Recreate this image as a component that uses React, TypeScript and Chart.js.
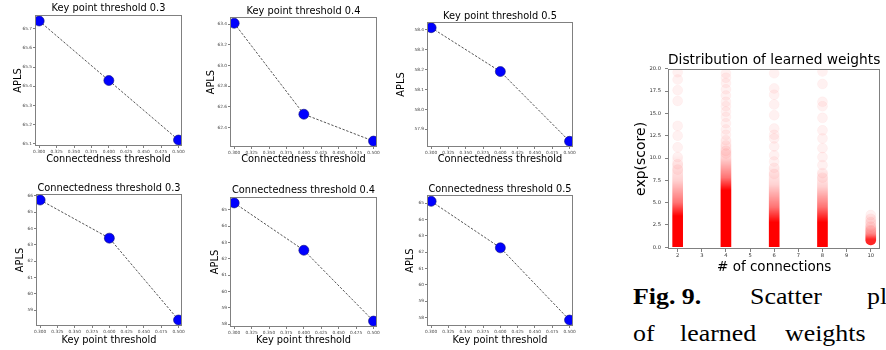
import React, { useEffect, useRef } from 'react';
import { Chart, registerables } from 'chart.js';

Chart.register(...registerables);

const SANS = "'DejaVu Sans', 'Noto Sans', sans-serif";

// ---------- APLS sweeps ----------
const thresholds = [0.3, 0.4, 0.5];
// top row: x = connectedness threshold
const aplsKeyPoint03 = [65.74, 65.43, 65.12];
const aplsKeyPoint04 = [63.41, 62.53, 62.27];
const aplsKeyPoint05 = [58.41, 58.19, 57.84];
// bottom row: x = key point threshold
const aplsConnect03 = [65.74, 63.41, 58.41];
const aplsConnect04 = [65.43, 62.53, 58.19];
const aplsConnect05 = [65.12, 62.27, 57.84];

const thresholdTickLabels = ['0.300', '0.325', '0.350', '0.375', '0.400', '0.425', '0.450', '0.475', '0.500'];
const yTicksKeyPoint03 = ['65.1', '65.2', '65.3', '65.4', '65.5', '65.6', '65.7'];
const yTicksKeyPoint04 = ['62.4', '62.6', '62.8', '63.0', '63.2', '63.4'];
const yTicksKeyPoint05 = ['57.9', '58.0', '58.1', '58.2', '58.3', '58.4'];
const yTicksConnect03 = ['59', '60', '61', '62', '63', '64', '65', '66'];
const yTicksConnect04 = ['58', '59', '60', '61', '62', '63', '64', '65'];
const yTicksConnect05 = ['58', '59', '60', '61', '62', '63', '64', '65'];

// ---------- learned weights ----------
const connectionCounts = [2, 4, 6, 8, 10];
const weightLow = [0, 0, 0, 0, 0.25];
const weightSolidTop = [3.5, 6.4, 2.8, 2.8, 0.9];
const weightMidTop = [5.0, 7.8, 4.5, 4.5, 1.5];
const weightPaleTop = [7.5, 10.0, 7.0, 6.8, 2.5];
const weightFadeTop = [10.5, 12.5, 9.5, 9.0, 3.8];
const sparseWeights2 = [19.6, 18.8, 17.6, 16.4, 13.6, 12.5, 11.2, 10.1, 9.3, 8.7];
const sparseWeights4 = [19.5, 19.0, 18.4, 17.7, 17.0, 16.3, 15.8, 15.2, 14.6, 13.9, 13.2, 12.6, 12.0, 11.4, 10.8, 10.5];
const sparseWeights6 = [19.5, 17.8, 17.1, 16.0, 14.8, 13.3, 12.6, 12.2, 11.3, 10.3, 9.6, 8.9, 8.2];
const sparseWeights8 = [19.7, 18.3, 16.3, 15.8, 14.5, 13.1, 12.2, 11.1, 10.1, 9.2, 8.3, 7.8];
const sparseWeights10 = [3.6, 3.2, 2.8, 2.3, 1.9];
const connectionTickLabels = ['2', '3', '4', '5', '6', '7', '8', '9', '10'];
const scoreTickLabels = ['0.0', '2.5', '5.0', '7.5', '10.0', '12.5', '15.0', '17.5', '20.0'];

const framePlugin = {
  id: 'frame',
  afterDraw(chart: any) {
    const { ctx, chartArea: a } = chart;
    ctx.save();
    ctx.strokeStyle = '#808080';
    ctx.lineWidth = 1;
    ctx.strokeRect(Math.round(a.left) + 0.5, Math.round(a.top) + 0.5, Math.round(a.right - a.left) - 1, Math.round(a.bottom - a.top) - 1);
    ctx.restore();
  },
};

type PanelSpec = {
  title: string;
  xLabel: string;
  values: number[];
  yTicks: string[];
  box: [number, number, number, number];
  yAxisW: number;
  padRight: number;
  titlePad: [number, number];
  yTitlePad: number;
  xAxisH: number;
};

const panels: PanelSpec[] = [
  { title: 'Key point threshold 0.3', xLabel: 'Connectedness threshold', values: aplsKeyPoint03, yTicks: yTicksKeyPoint03, box: [0, 0, 190, 167], yAxisW: 35, padRight: 8, titlePad: [3, 0.24], yTitlePad: 13, xAxisH: 21 },
  { title: 'Key point threshold 0.4', xLabel: 'Connectedness threshold', values: aplsKeyPoint04, yTicks: yTicksKeyPoint04, box: [200, 0, 185, 167], yAxisW: 30, padRight: 8, titlePad: [5.6, 0], yTitlePad: 5.8, xAxisH: 20 },
  { title: 'Key point threshold 0.5', xLabel: 'Connectedness threshold', values: aplsKeyPoint05, yTicks: yTicksKeyPoint05, box: [395, 0, 186, 167], yAxisW: 32, padRight: 8, titlePad: [10.1, 0.14], yTitlePad: 0.8, xAxisH: 20 },
  { title: 'Connectedness threshold 0.3', xLabel: 'Key point threshold', values: aplsConnect03, yTicks: yTicksConnect03, box: [0, 178, 190, 170], yAxisW: 36, padRight: 8, titlePad: [4.1, 0.14], yTitlePad: 14.8, xAxisH: 22 },
  { title: 'Connectedness threshold 0.4', xLabel: 'Key point threshold', values: aplsConnect04, yTicks: yTicksConnect04, box: [200, 178, 185, 170], yAxisW: 30, padRight: 8, titlePad: [6.1, 1.14], yTitlePad: 9.1, xAxisH: 21 },
  { title: 'Connectedness threshold 0.5', xLabel: 'Key point threshold', values: aplsConnect05, yTicks: yTicksConnect05, box: [395, 178, 186, 170], yAxisW: 32, padRight: 8, titlePad: [5.6, 0], yTitlePad: 9.8, xAxisH: 22 },
];

function LinePanel({ spec }: { spec: PanelSpec }) {
  const ref = useRef<HTMLCanvasElement>(null);
  useEffect(() => {
    const lo = Math.min(...spec.values);
    const hi = Math.max(...spec.values);
    const m = (hi - lo) * 0.05;
    const chart = new Chart(ref.current as HTMLCanvasElement, {
      type: 'scatter',
      data: {
        datasets: [
          {
            data: thresholds.map((x, i) => ({ x, y: spec.values[i] })),
            showLine: true,
            borderColor: '#2a2a2a',
            borderWidth: 0.8,
            borderDash: [2.4, 1.6],
            pointRadius: 5,
            pointBackgroundColor: '#0000ff',
            pointBorderColor: '#10107a',
            pointBorderWidth: 0.6,
          } as any,
        ],
      },
      options: {
        animation: false,
        responsive: false,
        events: [],
        layout: { padding: { left: 0, right: spec.padRight, top: 0, bottom: 0 } },
        plugins: {
          legend: { display: false },
          tooltip: { enabled: false },
          title: {
            display: true,
            text: spec.title,
            fullSize: false,
            color: '#000',
            font: { family: SANS, size: 9.8, weight: 'normal', lineHeight: 1.2 },
            padding: { top: spec.titlePad[0], bottom: spec.titlePad[1] },
          },
        },
        scales: {
          x: {
            type: 'linear',
            min: 0.294,
            max: 0.505,
            bounds: 'data',
            afterBuildTicks: (s: any) => {
              s.ticks = thresholdTickLabels.map((l) => ({ value: Number(l) }));
            },
            afterFit: (s: any) => {
              s.height = spec.xAxisH;
            },
            ticks: {
              autoSkip: false,
              maxRotation: 0,
              padding: 1,
              color: '#444',
              font: { family: SANS, size: 4.3 },
              callback: (_v: any, i: number) => thresholdTickLabels[i],
            },
            grid: { drawOnChartArea: false, drawTicks: true, tickLength: 2, color: '#808080' },
            border: { display: false },
            title: {
              display: true,
              text: spec.xLabel,
              color: '#000',
              font: { family: SANS, size: 9.8, lineHeight: 1.2 },
              padding: { top: 0, bottom: 2 },
            },
          },
          y: {
            type: 'linear',
            min: lo - m,
            max: hi + m,
            bounds: 'data',
            afterBuildTicks: (s: any) => {
              s.ticks = spec.yTicks.map((l) => ({ value: Number(l) }));
            },
            afterFit: (s: any) => {
              s.width = spec.yAxisW;
            },
            ticks: {
              autoSkip: false,
              padding: 1,
              color: '#444',
              font: { family: SANS, size: 4.3 },
              callback: (_v: any, i: number) => spec.yTicks[i],
            },
            grid: { drawOnChartArea: false, drawTicks: true, tickLength: 2, color: '#808080' },
            border: { display: false },
            title: {
              display: true,
              text: 'APLS',
              color: '#000',
              font: { family: SANS, size: 9.8, lineHeight: 1.2 },
              padding: { top: spec.yTitlePad, bottom: 0 },
            },
          },
        },
      } as any,
      plugins: [framePlugin],
    });
    return () => chart.destroy();
  }, [spec]);
  const [left, top, w, h] = spec.box;
  return (
    <canvas
      ref={ref}
      width={w}
      height={h}
      style={{ position: 'absolute', left, top, width: w, height: h }}
    />
  );
}

function WeightsChart() {
  const ref = useRef<HTMLCanvasElement>(null);
  useEffect(() => {
    const gradientAlphas = [1, 0.55, 0.18, 0];
    const fill = (c: any) => {
      const chart = c.chart;
      const i = c.dataIndex;
      if (i === undefined || !chart.chartArea) return 'rgba(255,0,0,0.9)';
      const ys = chart.scales.y;
      const p0 = ys.getPixelForValue(weightLow[i]);
      const p1 = ys.getPixelForValue(weightFadeTop[i]);
      const k = i === 4 ? 0.85 : 1;
      const g = chart.ctx.createLinearGradient(0, p0, 0, p1);
      g.addColorStop(0, `rgba(255,0,0,${k})`);
      [weightSolidTop[i], weightMidTop[i], weightPaleTop[i], weightFadeTop[i]].forEach((v, j) => {
        const t = (ys.getPixelForValue(v) - p0) / (p1 - p0);
        g.addColorStop(Math.min(1, Math.max(0, t)), `rgba(255,0,0,${gradientAlphas[j] * k})`);
      });
      return g;
    };
    const radius = (c: any) =>
      c.dataIndex === 4 || c.dataIndex === undefined
        ? 5
        : { topLeft: 5, topRight: 5, bottomLeft: 0, bottomRight: 0 };
    const sparse = [sparseWeights2, sparseWeights4, sparseWeights6, sparseWeights8, sparseWeights10].flatMap((arr, i) =>
      arr.map((y) => ({ x: connectionCounts[i], y }))
    );
    const chart = new Chart(ref.current as HTMLCanvasElement, {
      type: 'scatter',
      data: {
        datasets: [
          {
            type: 'bar',
            order: 2,
            data: connectionCounts.map((x, i) => ({ x, y: [weightLow[i], weightFadeTop[i]] })),
            backgroundColor: fill,
            barThickness: 10,
            borderRadius: radius,
            borderSkipped: false,
            borderWidth: 0,
            grouped: false,
          } as any,
          {
            type: 'scatter',
            order: 1,
            data: sparse,
            pointRadius: 5,
            backgroundColor: 'rgba(255,0,0,0.055)',
            borderColor: 'rgba(255,0,0,0.06)',
            borderWidth: 0.6,
          } as any,
        ],
      },
      options: {
        animation: false,
        responsive: false,
        events: [],
        layout: { padding: { left: 0, right: 3, top: 0, bottom: 0 } },
        plugins: {
          legend: { display: false },
          tooltip: { enabled: false },
          title: {
            display: true,
            text: 'Distribution of learned weights',
            fullSize: false,
            color: '#000',
            font: { family: SANS, size: 14, weight: 'normal', lineHeight: 1.2 },
            padding: { top: 7, bottom: 0 },
          },
        },
        scales: {
          x: {
            type: 'linear',
            min: 1.6,
            max: 10.4,
            offset: false,
            bounds: 'data',
            afterBuildTicks: (s: any) => {
              s.ticks = connectionTickLabels.map((l) => ({ value: Number(l) }));
            },
            afterFit: (s: any) => {
              s.height = 29;
            },
            ticks: {
              autoSkip: false,
              maxRotation: 0,
              padding: 1,
              color: '#333',
              font: { family: SANS, size: 5.2 },
              callback: (_v: any, i: number) => connectionTickLabels[i],
            },
            grid: { drawOnChartArea: false, drawTicks: true, tickLength: 3, color: '#808080', offset: false },
            border: { display: false },
            title: {
              display: true,
              text: '# of connections',
              color: '#000',
              font: { family: SANS, size: 13.5, lineHeight: 1.2 },
              padding: { top: 0, bottom: 2 },
            },
          },
          y: {
            type: 'linear',
            min: -0.2,
            max: 20,
            bounds: 'data',
            afterBuildTicks: (s: any) => {
              s.ticks = scoreTickLabels.map((l) => ({ value: Number(l) }));
            },
            afterFit: (s: any) => {
              s.width = 43;
            },
            ticks: {
              autoSkip: false,
              padding: 4,
              color: '#333',
              font: { family: SANS, size: 5.2 },
              callback: (_v: any, i: number) => scoreTickLabels[i],
            },
            grid: { drawOnChartArea: false, drawTicks: true, tickLength: 3, color: '#808080' },
            border: { display: false },
            title: {
              display: true,
              text: 'exp(score)',
              color: '#000',
              font: { family: SANS, size: 14, lineHeight: 1.2 },
              padding: { top: 7.6, bottom: 0 },
            },
          },
        },
      } as any,
      plugins: [framePlugin],
    });
    return () => chart.destroy();
  }, []);
  return (
    <canvas
      ref={ref}
      width={261}
      height={233}
      style={{ position: 'absolute', left: 625, top: 45, width: 261, height: 233 }}
    />
  );
}

function Caption() {
  const serif = "'Liberation Serif', 'Times New Roman', serif";
  const word = (text: string, left: number, top: number, bold = false) => (
    <span
      key={text + left}
      style={{
        position: 'absolute',
        left,
        top,
        fontFamily: serif,
        fontSize: 22.5,
        lineHeight: '22.5px',
        fontWeight: bold ? 'bold' : 'normal',
        whiteSpace: 'nowrap',
        transform: 'scaleX(1.15)',
        transformOrigin: 'left top',
        color: '#000',
      }}
    >
      {text}
    </span>
  );
  return (
    <>
      {word('Fig. 9.', 633, 286, true)}
      {word('Scatter', 750, 286)}
      {word('pl', 867, 286)}
      {word('of', 633, 323)}
      {word('learned', 680, 323)}
      {word('weights', 785, 323)}
    </>
  );
}

export default function App() {
  return (
    <div
      style={{
        position: 'fixed',
        left: 0,
        top: 0,
        width: 886,
        height: 350,
        background: '#fff',
        overflow: 'hidden',
      }}
    >
      {panels.map((p, i) => (
        <LinePanel key={i} spec={p} />
      ))}
      <WeightsChart />
      <Caption />
    </div>
  );
}
